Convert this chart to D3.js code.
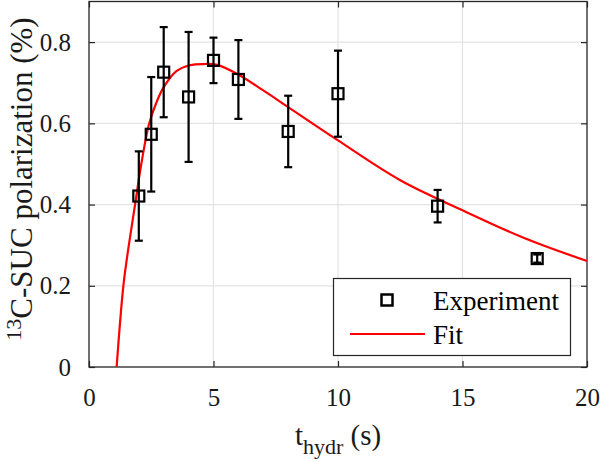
<!DOCTYPE html>
<html>
<head>
<meta charset="utf-8">
<script src="https://cdn.jsdelivr.net/npm/d3@7"></script>
</head>
<body style="margin:0">
<svg id="chart" width="600" height="462" font-family="Liberation Serif" style="font-family: 'Liberation Serif'"></svg>
<script>
// measured points (hydration time in s, polarization in %)
var hydrTime = [2, 2.5, 3, 4, 5, 6, 8, 10, 14, 18];
var polarization = [0.421, 0.573, 0.726, 0.665, 0.755, 0.708, 0.580, 0.673, 0.396, 0.267];
var polErr = [0.110, 0.141, 0.111, 0.160, 0.056, 0.097, 0.088, 0.106, 0.040, 0.010];

// fitted curve
var fitTime = [1.11, 1.38, 1.6, 1.85, 2.1, 2.42, 2.7, 3.0, 3.5, 4.05, 4.6, 5.15, 6.06, 7, 8, 10, 12.5, 15, 17.5, 20];
var fitPol = [0, 0.2, 0.3, 0.4, 0.5, 0.6, 0.65, 0.689, 0.728, 0.743, 0.746, 0.744, 0.718, 0.681, 0.640, 0.558, 0.460, 0.386, 0.317, 0.261];

var xTicks = [0, 5, 10, 15, 20];
var yTicks = [0, 0.2, 0.4, 0.6, 0.8];
var legendLabels = ["Experiment", "Fit"];

var FONT = "Liberation Serif";
var svg = d3.select("#chart");
var pLeft = 89, pRight = 587, pTop = 1.5, pBottom = 367;
var axisColor = "#262626";

var x = d3.scaleLinear().domain([0, 20]).range([pLeft, pRight]);
var y = d3.scaleLinear().domain([0, 0.9]).range([pBottom, pTop]);

// grid
var grid = svg.append("g");
grid.selectAll(".gx").data(xTicks.slice(1, -1)).enter().append("line")
    .attr("x1", d => x(d)).attr("x2", d => x(d))
    .attr("y1", pTop).attr("y2", pBottom)
    .attr("stroke", "#e3e3e3").attr("stroke-width", 1.2);
grid.selectAll(".gy").data(yTicks.slice(1)).enter().append("line")
    .attr("x1", pLeft).attr("x2", pRight)
    .attr("y1", d => y(d)).attr("y2", d => y(d))
    .attr("stroke", "#e3e3e3").attr("stroke-width", 1.2);

// axes with inward ticks
function styleAxis(g) {
  g.attr("font-family", FONT).attr("font-size", 25);
  g.select(".domain").remove();
  g.selectAll(".tick line").attr("stroke", axisColor).attr("stroke-width", 1.2);
  g.selectAll(".tick text").attr("fill", "#1a1a1a")
    .attr("font-family", FONT).style("font-family", FONT).attr("font-size", 25);
}

svg.append("g")
  .attr("transform", "translate(0," + pBottom + ")")
  .call(d3.axisBottom(x).tickValues(xTicks).tickSize(-6).tickPadding(21).tickFormat(d3.format("d")))
  .call(styleAxis);
svg.append("g")
  .attr("transform", "translate(0," + pTop + ")")
  .call(d3.axisTop(x).tickValues(xTicks).tickSize(-6).tickFormat(""))
  .call(styleAxis);
svg.append("g")
  .attr("transform", "translate(" + pLeft + ",0)")
  .call(d3.axisLeft(y).tickValues(yTicks).tickSize(-6).tickPadding(18).tickFormat(d => d === 0 ? "0" : d3.format(".1f")(d)))
  .call(styleAxis);
svg.append("g")
  .attr("transform", "translate(" + pRight + ",0)")
  .call(d3.axisRight(y).tickValues(yTicks).tickSize(-6).tickFormat(""))
  .call(styleAxis);

svg.append("rect")
  .attr("x", pLeft).attr("y", pTop)
  .attr("width", pRight - pLeft).attr("height", pBottom - pTop)
  .attr("fill", "none").attr("stroke", axisColor).attr("stroke-width", 1.3);

// fit line
var line = d3.line()
  .x((d, i) => x(fitTime[i]))
  .y(d => y(d))
  .curve(d3.curveCatmullRom.alpha(0.5));
svg.append("path")
  .datum(fitPol)
  .attr("d", line)
  .attr("fill", "none").attr("stroke", "#ff0000").attr("stroke-width", 2.2);

// error bars + markers
var pts = hydrTime.map((t, i) => ({t: t, v: polarization[i], e: polErr[i]}));
var eb = svg.append("g").attr("stroke", "#000").attr("stroke-width", 2.2).attr("fill", "none");
var cap = 4;
pts.forEach(function (d) {
  eb.append("line").attr("x1", x(d.t)).attr("x2", x(d.t))
    .attr("y1", y(d.v - d.e)).attr("y2", y(d.v + d.e));
  eb.append("line").attr("x1", x(d.t) - cap).attr("x2", x(d.t) + cap)
    .attr("y1", y(d.v - d.e)).attr("y2", y(d.v - d.e));
  eb.append("line").attr("x1", x(d.t) - cap).attr("x2", x(d.t) + cap)
    .attr("y1", y(d.v + d.e)).attr("y2", y(d.v + d.e));
});
var ms = 11;
eb.selectAll("rect").data(pts).enter().append("rect")
  .attr("x", d => x(d.t) - ms / 2).attr("y", d => y(d.v) - ms / 2)
  .attr("width", ms).attr("height", ms);

// legend
var lg = svg.append("g");
lg.append("rect").attr("x", 333.5).attr("y", 278.5).attr("width", 237).attr("height", 77)
  .attr("fill", "#fff").attr("stroke", axisColor).attr("stroke-width", 1.2);
lg.append("rect").attr("x", 387 - ms / 2).attr("y", 300 - ms / 2).attr("width", ms).attr("height", ms)
  .attr("fill", "none").attr("stroke", "#000").attr("stroke-width", 2.5);
lg.append("line").attr("x1", 350).attr("x2", 425).attr("y1", 334).attr("y2", 334)
  .attr("stroke", "#ff0000").attr("stroke-width", 2.2);
lg.selectAll("text").data(legendLabels).enter().append("text")
  .attr("x", 433).attr("y", (d, i) => i === 0 ? 310 : 343.5)
  .attr("fill", "#000").attr("font-size", 27)
  .attr("font-family", FONT).style("font-family", FONT)
  .text(d => d);

// axis labels
var xl = svg.append("text").attr("x", 338).attr("y", 445).attr("text-anchor", "middle")
  .attr("fill", "#1a1a1a").attr("font-size", 29)
  .attr("font-family", FONT).style("font-family", FONT);
xl.append("tspan").text("t");
xl.append("tspan").attr("font-size", 22).attr("dy", 9).text("hydr");
xl.append("tspan").attr("dy", -9).text(" (s)");

var yl = svg.append("text").attr("transform", "translate(32,179) rotate(-90)")
  .attr("text-anchor", "middle").attr("fill", "#1a1a1a")
  .attr("font-size", 31).attr("font-family", FONT).style("font-family", FONT);
yl.append("tspan").attr("font-size", 22).attr("dy", -11).text("13");
yl.append("tspan").attr("dy", 11).text("C-SUC polarization (%)");
</script>
</body>
</html>
